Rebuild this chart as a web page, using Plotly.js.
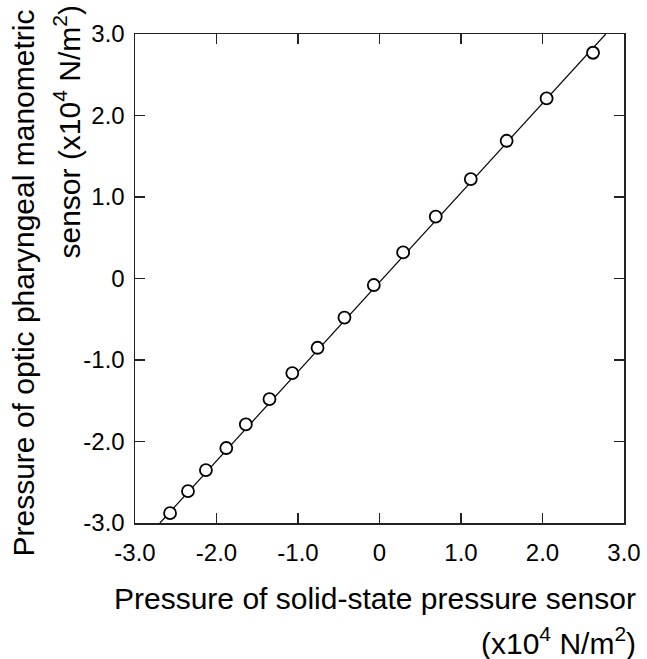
<!DOCTYPE html>
<html>
<head>
<meta charset="utf-8">
<script src="https://cdn.plot.ly/plotly-3.0.1.min.js"></script>
<style>html,body{margin:0;padding:0;background:#fff;}#chart{width:647px;height:659px;}</style>
</head>
<body>
<div id="chart"></div>
<script>
// Data (units: x10^4 N/m^2)
const solidState = [-2.57, -2.35, -2.13, -1.88, -1.64, -1.35, -1.07, -0.76, -0.43, -0.07, 0.29, 0.69, 1.12, 1.56, 2.05, 2.62];
const opticSensor = [-2.88, -2.61, -2.35, -2.08, -1.79, -1.48, -1.16, -0.85, -0.48, -0.08, 0.32, 0.76, 1.22, 1.69, 2.21, 2.77];
const fitX = [-2.694, 2.776];
const fitY = [-3.0, 3.0];
const tickVals = [-3, -2, -1, 0, 1, 2, 3];
const tickText = ["-3.0", "-2.0", "-1.0", "0", "1.0", "2.0", "3.0"];

const FONT = "Liberation Sans, Arial, sans-serif";
const L = 135, R = 624, T = 34, B = 523;
const W = R - L, H = B - T;
const px = v => (v - L) / W;
const py = v => (B - v) / H;

const traces = [
  {x: fitX, y: fitY, mode: "lines", line: {color: "#000", width: 1.2}, hoverinfo: "skip", showlegend: false},
  {x: solidState, y: opticSensor, mode: "markers", showlegend: false,
   marker: {symbol: "circle", size: 12, color: "#fff", line: {color: "#000", width: 1.8}}}
];

const axisCommon = {
  range: [-3, 3], tickmode: "array", tickvals: tickVals, ticktext: tickText,
  ticks: "inside", ticklen: 10, tickwidth: 1.3, tickcolor: "#222",
  showline: true, linecolor: "#222", linewidth: 1.5, mirror: "allticks",
  showgrid: false, zeroline: false,
  tickfont: {family: FONT, size: 24, color: "#000"}
};

const layout = {
  width: 647, height: 659,
  margin: {l: L, r: 647 - R, t: T, b: 659 - B},
  paper_bgcolor: "#fff", plot_bgcolor: "#fff",
  xaxis: Object.assign({}, axisCommon, {ticklabelstandoff: 8}),
  yaxis: Object.assign({}, axisCommon, {ticklabelstandoff: 4}),
  annotations: [
    {text: "Pressure of solid-state pressure sensor", xref: "paper", yref: "paper",
     x: px(638), y: py(598), xanchor: "right", yanchor: "middle", showarrow: false,
     font: {family: FONT, size: 30, color: "#000"}},
    {text: "(x10<sup>4</sup> N/m<sup>2</sup>)", xref: "paper", yref: "paper",
     x: px(638), y: py(641), xanchor: "right", yanchor: "middle", showarrow: false,
     font: {family: FONT, size: 30, color: "#000"}},
    {text: "Pressure of optic pharyngeal manometric", xref: "paper", yref: "paper",
     x: px(23), y: py(8), xanchor: "center", yanchor: "top", textangle: -90, showarrow: false,
     font: {family: FONT, size: 30, color: "#000"}},
    {text: "sensor (x10<sup>4</sup> N/m<sup>2</sup>)", xref: "paper", yref: "paper",
     x: px(68), y: py(4), xanchor: "center", yanchor: "top", textangle: -90, showarrow: false,
     font: {family: FONT, size: 30, color: "#000"}}
  ]
};

Plotly.newPlot("chart", traces, layout, {displayModeBar: false, staticPlot: true});
</script>
</body>
</html>
